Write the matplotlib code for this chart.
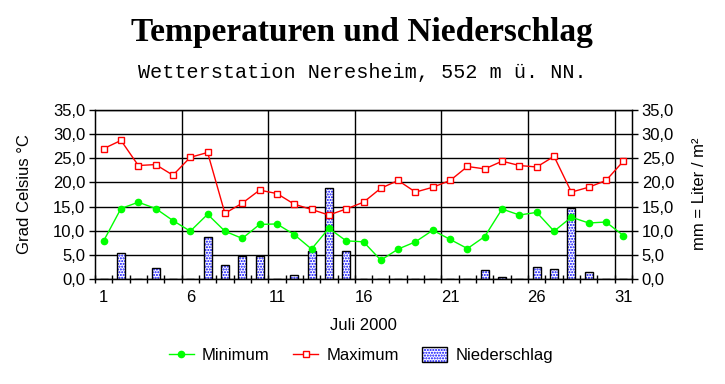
import numpy as np
import matplotlib
matplotlib.use("Agg")
import matplotlib.pyplot as plt
from matplotlib.ticker import FuncFormatter, FixedLocator
from matplotlib.lines import Line2D
from matplotlib.patches import Patch
from matplotlib.legend_handler import HandlerTuple

days = list(range(1, 32))
t_min = [7.9, 14.6, 15.9, 14.6, 12.1, 9.9, 13.4, 9.9, 8.4, 11.3,
         11.4, 9.2, 6.2, 10.5, 7.9, 7.7, 3.9, 6.2, 7.7, 10.1,
         8.2, 6.3, 8.8, 14.5, 13.25, 13.8, 9.9, 12.8, 11.6, 11.8, 9.0]
t_max = [27.0, 28.7, 23.5, 23.7, 21.5, 25.2, 26.2, 13.6, 15.7, 18.4,
         17.7, 15.5, 14.4, 13.25, 14.5, 15.9, 18.8, 20.4, 18.0, 19.0,
         20.4, 23.3, 22.8, 24.4, 23.5, 23.2, 25.4, 18.0, 19.0, 20.4, 24.4]
precip = [0, 5.3, 0, 2.2, 0, 0, 8.6, 3.0, 4.7, 4.7,
          0, 0.8, 5.7, 18.8, 5.9, 0, 0, 0, 0, 0,
          0, 0, 1.9, 0.4, 0, 2.4, 2.1, 14.8, 1.4, 0, 0]
day_labels = ["1", "6", "11", "16", "21", "26", "31"]

title = "Temperaturen und Niederschlag"
subtitle = "Wetterstation Neresheim, 552 m ü. NN."
xlabel = "Juli 2000"
ylabel_left = "Grad Celsius °C"
ylabel_right = "mm = Liter / m²"

plt.rcParams['font.family'] = ['Liberation Sans', 'DejaVu Sans']
plt.rcParams['font.size'] = 12

fig = plt.figure(figsize=(7.25, 3.84), dpi=100)
ax = fig.add_axes([95/725, 1-279/384, (632-95)/725, (279-110)/384])

x = np.array(days)
# bars
ax.bar(x, precip, width=0.46, color='white', edgecolor='#0000ff', hatch='......',
       linewidth=0, zorder=2)
ax.bar(x, precip, width=0.46, fill=False, edgecolor='black', linewidth=1.0, zorder=3)

ax.plot(x, t_min, color='#00ff00', lw=1.0, marker='o', ms=4.5, mfc='#00ff00',
        mec='#00ff00', zorder=5)
ax.plot(x, t_max, color='#ff0000', lw=1.0, marker='s', ms=4.2, mfc='white',
        mec='#ff0000', mew=1.0, zorder=5)

ax.set_xlim(0.5, 31.5)
ax.set_ylim(0, 35)
fmt = FuncFormatter(lambda v, p: f"{v:.1f}".replace('.', ','))
ax.set_yticks(np.arange(0, 36, 5))
ax.yaxis.set_major_formatter(fmt)
ax.grid(axis='y', color='black', lw=1.0, zorder=0)
ax.set_axisbelow(True)

lab_pos = [int(s) for s in day_labels]
ax.set_xticks(lab_pos)
ax.set_xticklabels(day_labels)
ax.tick_params(axis='x', which='major', length=0, pad=8)
ax.xaxis.set_minor_locator(FixedLocator(np.arange(0.5, 32, 1)))
ax.tick_params(axis='x', which='minor', direction='inout', length=6, width=1)
for b in np.arange(5.5, 31, 5):
    ax.axvline(b, color='black', lw=1.0, zorder=0)
ax.tick_params(axis='y', direction='out', length=4, width=1, pad=3)

for s in ax.spines.values():
    s.set_linewidth(1.0)

ax2 = ax.twinx()
ax2.set_ylim(0, 35)
ax2.set_yticks(np.arange(0, 36, 5))
ax2.yaxis.set_major_formatter(fmt)
ax2.tick_params(axis='y', direction='out', length=4, width=1, pad=3)

fig.text(25/725, 1-194/384, ylabel_left, rotation=90, ha='center', va='center', fontsize=12)
fig.text(700/725, 1-194/384, ylabel_right, rotation=90, ha='center', va='center', fontsize=12)
fig.text(363/725, 1-325/384, xlabel, ha='center', va='center', fontsize=12)

fig.text(362/725, 1-33/384, title, ha='center', va='center', fontsize=24,
         family='Liberation Serif', weight='bold')
fig.text(362/725, 1-72/384, subtitle, ha='center', va='center', fontsize=14.5,
         family='Liberation Mono')

h_min = Line2D([], [], color='#00ff00', lw=1.0, marker='o', ms=4.5, mfc='#00ff00', mec='#00ff00')
h_max = Line2D([], [], color='#ff0000', lw=1.0, marker='s', ms=4.2, mfc='white', mec='#ff0000')
h_bar = (Patch(facecolor='white', edgecolor='#0000ff', hatch='......', linewidth=0),
         Patch(fill=False, edgecolor='black', linewidth=1.0))
fig.legend([h_min, h_max, h_bar], ["Minimum", "Maximum", "Niederschlag"], ncol=3, loc='center',
           bbox_to_anchor=(361/725, 1-355/384), frameon=False, handlelength=1.5,
           handleheight=1.0, handletextpad=0.5, columnspacing=1.4, fontsize=12,
           handler_map={tuple: HandlerTuple(ndivide=1, pad=0)})

fig.savefig("out.png", dpi=100)
